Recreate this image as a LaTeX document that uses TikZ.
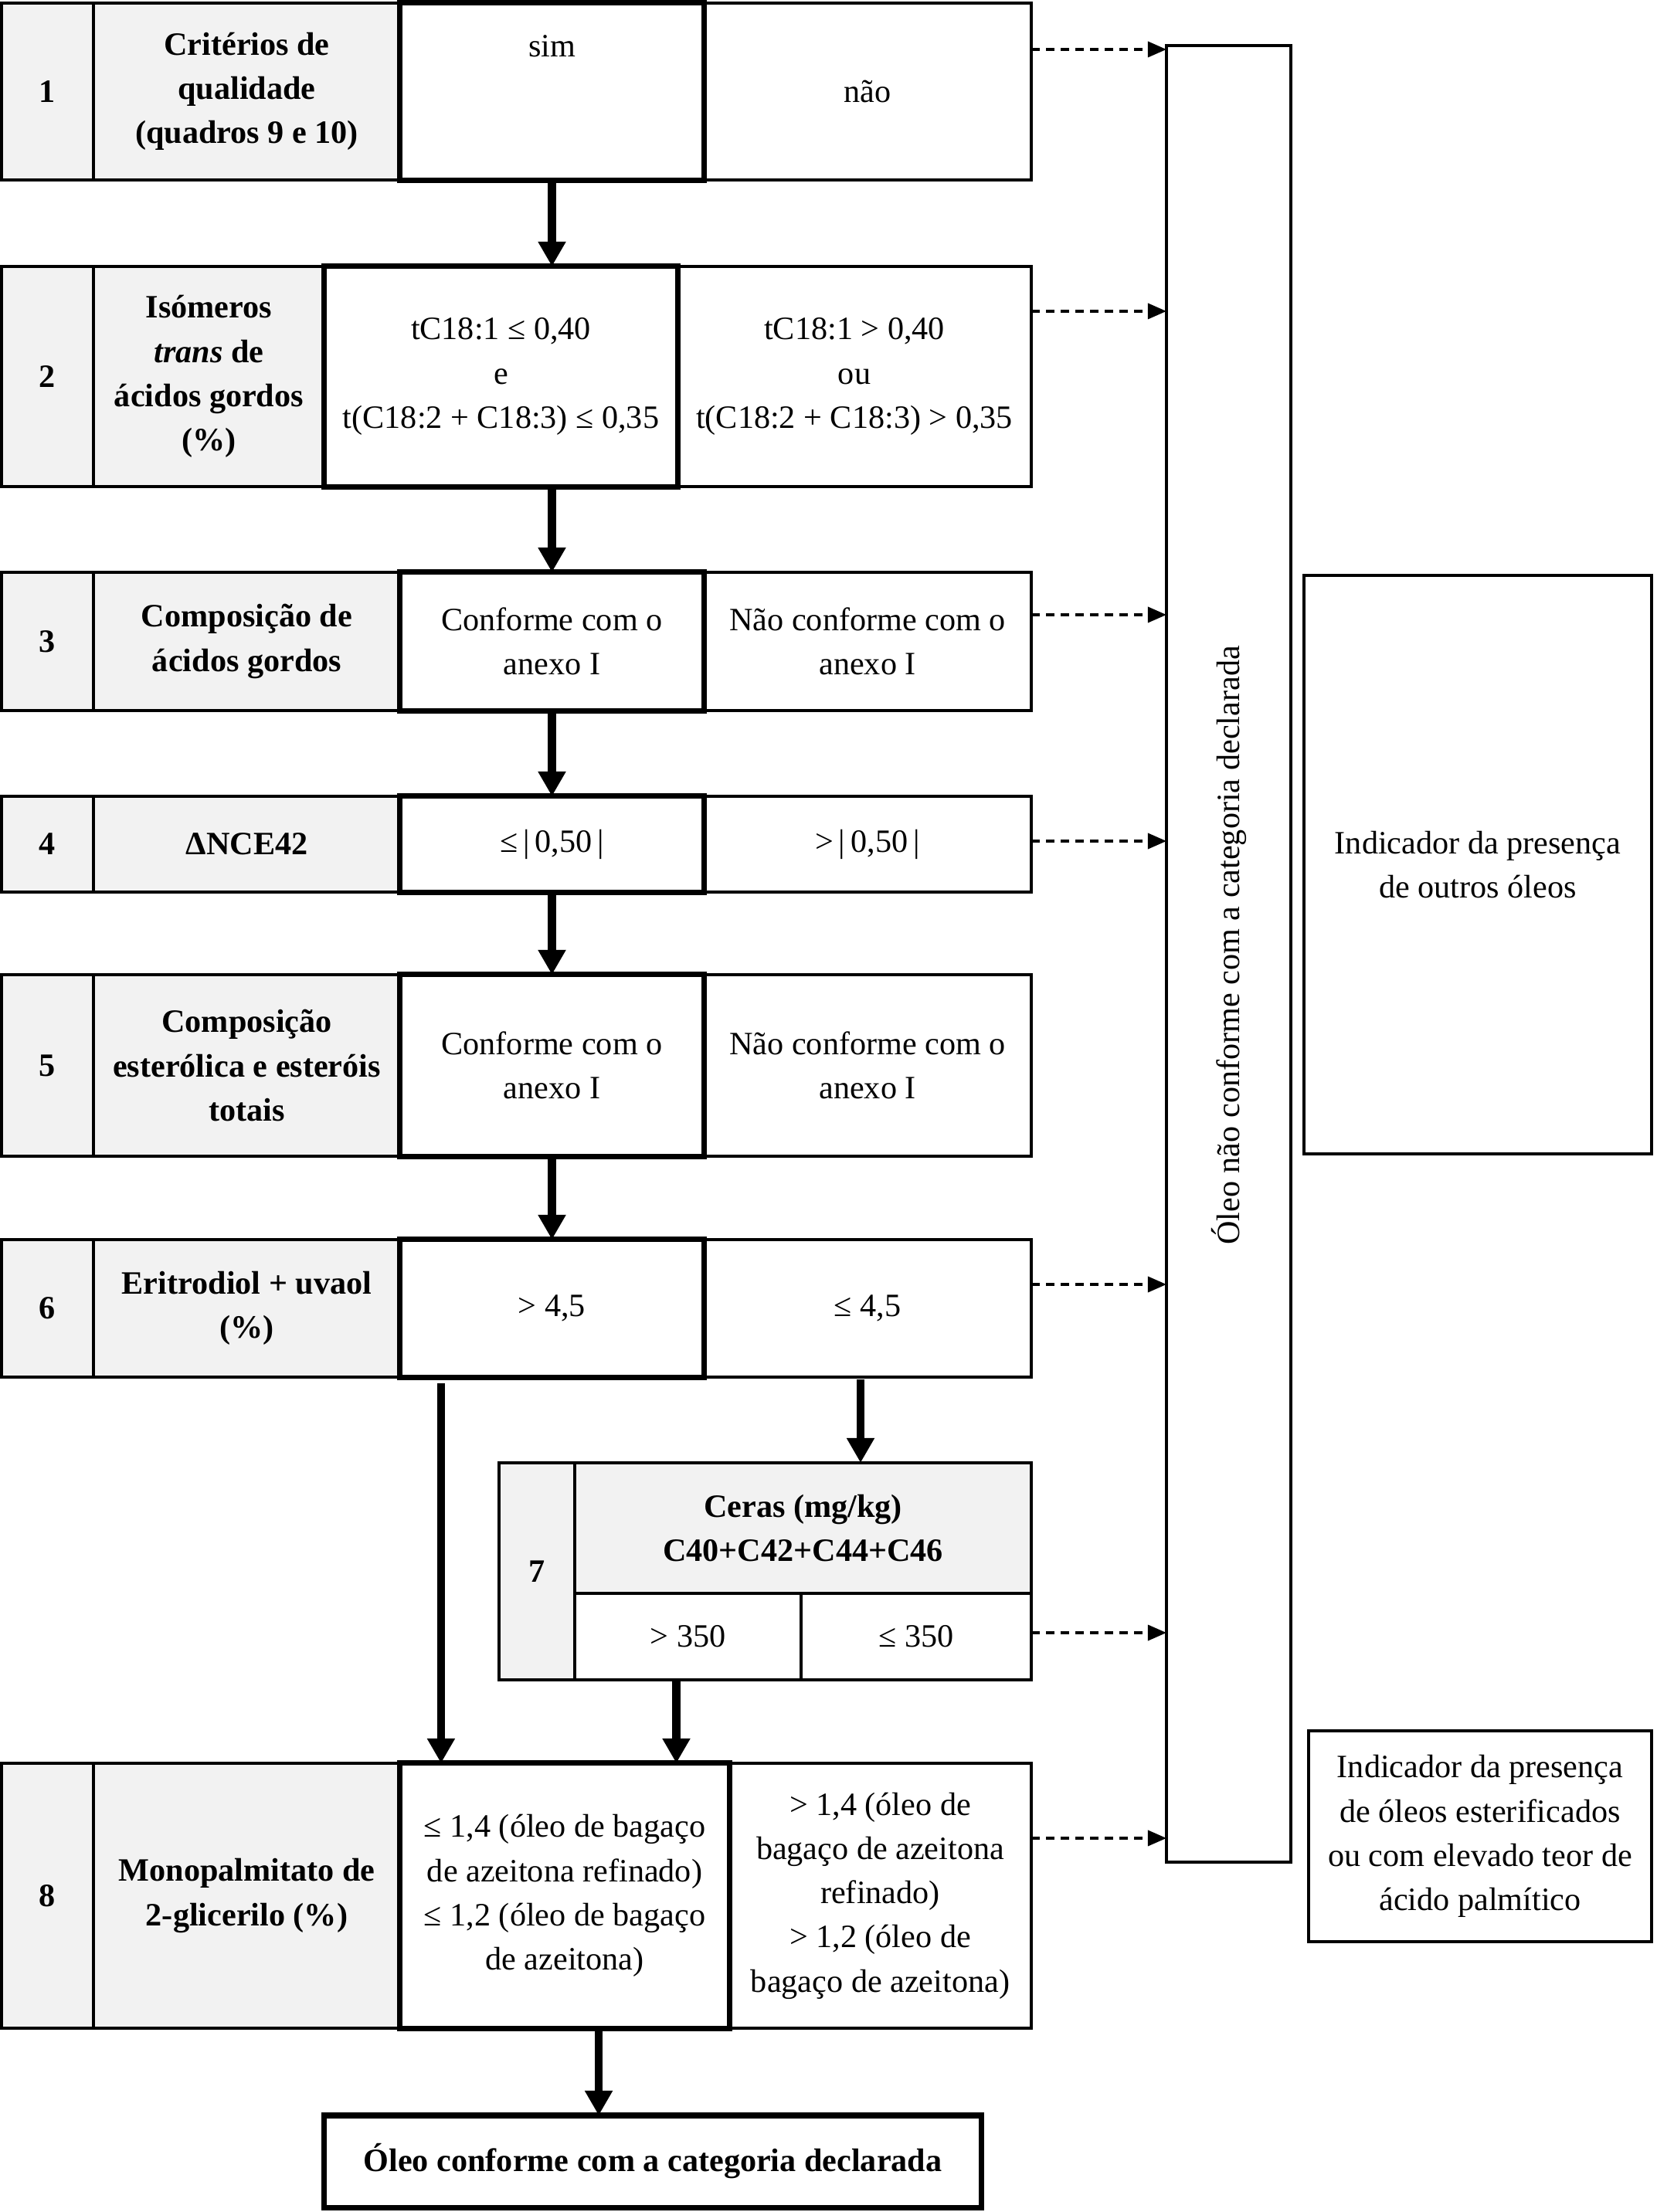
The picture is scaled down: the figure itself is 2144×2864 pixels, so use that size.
\documentclass[tikz,border=0pt]{standalone}
\usepackage{fontspec}
\setmainfont{Liberation Serif}
\usetikzlibrary{arrows.meta,calc}
\definecolor{cellgrey}{HTML}{F2F2F2}

\begin{document}
\begin{tikzpicture}[x=0.01cm, y=-0.01cm,
  font=\fontsize{12}{16.3}\selectfont,
  plaincell/.style={draw, line width=1.1pt, rectangle, align=center, inner sep=2pt, outer sep=0pt},
  greycell/.style={plaincell, fill=cellgrey, font=\fontsize{12}{16.3}\selectfont\bfseries},
  yescell/.style={plaincell, line width=2pt},
  flowarrow/.style={line width=3pt, -{Triangle[width=0.34cm,length=0.32cm]}},
  dasharrow/.style={line width=1pt, dash pattern=on 3pt off 2.4pt, -{Triangle[width=0.2cm,length=0.24cm]}}]
\useasboundingbox (0,0) rectangle (2144,2864);

% Row 1
\node[greycell, minimum width=1.19cm, minimum height=2.29cm] (num1) at (61.5,118.5) {1};
\node[greycell, minimum width=3.97cm, minimum height=2.29cm] (lab1) at (319.5,118.5) {Critérios de\\qualidade\\(quadros 9 e 10)};
\node[plaincell, minimum width=4.24cm, minimum height=2.29cm] (no1) at (1123,118.5) {não};
\node[yescell, minimum width=3.93cm, minimum height=2.29cm] (yes1) at (714.5,118.5) {};
\node (sim) at ([yshift=-0.56cm]yes1.north) {sim};

% Row 2
\node[greycell, minimum width=1.19cm, minimum height=2.85cm] (num2) at (61.5,487.5) {2};
\node[greycell, minimum width=2.99cm, minimum height=2.85cm] (lab2) at (270.5,487.5) {Isómeros\\\textit{trans} de\\ácidos gordos\\(\%)};
\node[plaincell, minimum width=4.58cm, minimum height=2.85cm] (no2) at (1106,487.5) {tC18:1 > 0,40\\ou\\t(C18:2 + C18:3) > 0,35};
\node[yescell, minimum width=4.57cm, minimum height=2.85cm] (yes2) at (648.5,487.5) {tC18:1 ≤ 0,40\\e\\t(C18:2 + C18:3) ≤ 0,35};

% Row 3
\node[greycell, minimum width=1.19cm, minimum height=1.79cm] (num3) at (61.5,830.5) {3};
\node[greycell, minimum width=3.97cm, minimum height=1.79cm] (lab3) at (319.5,830.5) {Composição de\\ácidos gordos};
\node[plaincell, minimum width=4.24cm, minimum height=1.79cm] (no3) at (1123,830.5) {Não conforme com o\\anexo I};
\node[yescell, minimum width=3.93cm, minimum height=1.79cm] (yes3) at (714.5,830.5) {Conforme com o\\anexo I};

% Row 4
\node[greycell, minimum width=1.19cm, minimum height=1.24cm] (num4) at (61.5,1093) {4};
\node[greycell, minimum width=3.97cm, minimum height=1.24cm] (lab4) at (319.5,1093) {ΔNCE42};
\node[plaincell, minimum width=4.24cm, minimum height=1.24cm] (no4) at (1123,1093) {>\,|\,0,50\,|};
\node[yescell, minimum width=3.93cm, minimum height=1.24cm] (yes4) at (714.5,1093) {≤\,|\,0,50\,|};

% Row 5
\node[greycell, minimum width=1.19cm, minimum height=2.35cm] (num5) at (61.5,1379.5) {5};
\node[greycell, minimum width=3.97cm, minimum height=2.35cm] (lab5) at (319.5,1379.5) {Composição\\esterólica e esteróis\\totais};
\node[plaincell, minimum width=4.24cm, minimum height=2.35cm] (no5) at (1123,1379.5) {Não conforme com o\\anexo I};
\node[yescell, minimum width=3.93cm, minimum height=2.35cm] (yes5) at (714.5,1379.5) {Conforme com o\\anexo I};

% Row 6
\node[greycell, minimum width=1.19cm, minimum height=1.78cm] (num6) at (61.5,1694) {6};
\node[greycell, minimum width=3.97cm, minimum height=1.78cm] (lab6) at (319.5,1694) {Eritrodiol + uvaol\\(\%)};
\node[plaincell, minimum width=4.24cm, minimum height=1.78cm] (no6) at (1123,1694) {≤ 4,5};
\node[yescell, minimum width=3.93cm, minimum height=1.78cm] (yes6) at (714.5,1694) {> 4,5};

% Row 7
\node[greycell, minimum width=0.98cm, minimum height=2.81cm] (num7) at (695,2034.5) {7};
\node[greycell, minimum width=5.91cm, minimum height=1.69cm] (hdr7) at (1039.5,1978.5) {Ceras (mg/kg)\\C40+C42+C44+C46};
\node[plaincell, minimum width=2.93cm, minimum height=1.12cm] (lo7a) at (890.5,2119) {> 350};
\node[plaincell, minimum width=2.98cm, minimum height=1.12cm] (lo7b) at (1186,2119) {≤ 350};

% Row 8
\node[greycell, minimum width=1.19cm, minimum height=3.43cm] (num8) at (61.5,2454.5) {8};
\node[greycell, minimum width=3.97cm, minimum height=3.43cm] (lab8) at (319.5,2454.5) {Monopalmitato de\\2-glicerilo (\%)};
\node[plaincell, minimum width=3.91cm, minimum height=3.43cm] (no8) at (1139.5,2454.5) {> 1,4 (óleo de\\bagaço de azeitona\\refinado)\\> 1,2 (óleo de\\bagaço de azeitona)};
\node[yescell, minimum width=4.26cm, minimum height=3.43cm] (yes8) at (731,2454.5) {≤ 1,4 (óleo de bagaço\\de azeitona refinado)\\≤ 1,2 (óleo de bagaço\\de azeitona)};

% Result and side boxes
\node[yescell, minimum width=8.5cm, minimum height=1.19cm, font=\fontsize{12}{16.3}\selectfont\bfseries] (final) at (845,2798.5) {Óleo conforme com a categoria declarada};
\node[plaincell, minimum width=1.61cm, minimum height=23.5cm] (tall) at (1590.5,1235) {};
\node[rotate=90] (talltext) at ([yshift=0.11cm]tall.center) {Óleo não conforme com a categoria declarada};
\node[plaincell, minimum width=4.5cm, minimum height=7.49cm] (ind1) at (1913,1119.5) {Indicador da presença\\de outros óleos};
\node[plaincell, minimum width=4.44cm, minimum height=2.73cm] (ind2) at (1916,2377.5) {Indicador da presença\\de óleos esterificados\\ou com elevado teor de\\ácido palmítico};

% Main flow
\draw[flowarrow] (yes1.south) -- (yes1.south |- yes2.north);
\draw[flowarrow] (yes3.north |- yes2.south) -- (yes3.north);
\draw[flowarrow] (yes3) -- (yes4);
\draw[flowarrow] (yes4) -- (yes5);
\draw[flowarrow] (yes5) -- (yes6);
\coordinate (fromyes6) at ([xshift=0.53cm,yshift=-0.08cm]yes6.south west);
\draw[flowarrow] (fromyes6) -- (fromyes6 |- yes8.north);
\coordinate (fromno6) at ([xshift=-0.09cm,yshift=-0.03cm]no6.south);
\draw[flowarrow] (fromno6) -- (fromno6 |- hdr7.north);
\coordinate (fromlo7a) at ([xshift=-0.15cm]lo7a.south);
\draw[flowarrow] (fromlo7a) -- (fromlo7a |- yes8.north);
\coordinate (fromyes8) at ([xshift=0.44cm]yes8.south);
\draw[flowarrow] (fromyes8) -- (fromyes8 |- final.north);

% Rejections
\foreach \src/\dy in {no1/0.60, no2/0.58, no3/0.55, no4/0.58, no6/0.58, lo7b/0.51, no8/0.97}
  \draw[dasharrow] ([yshift=-\dy cm]\src.north east) -- ([yshift=-\dy cm]\src.north east -| tall.west);
\end{tikzpicture}
\end{document}
